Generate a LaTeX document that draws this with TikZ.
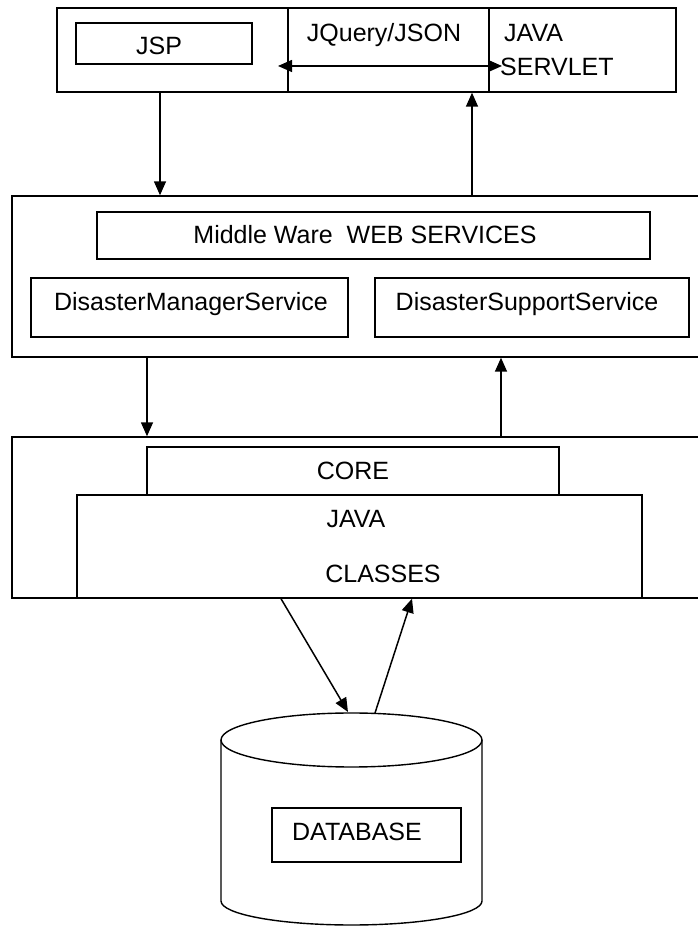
\documentclass[tikz,border=0pt]{standalone}
\usepackage{fontspec}
\setmainfont{Liberation Sans}
\usetikzlibrary{arrows.meta}

\tikzset{
  box/.style={draw, line width=1.4pt, inner sep=0pt, rectangle},
  lbl/.style={inner sep=0pt, anchor=base, font=\fontsize{25}{30}\selectfont},
  lblw/.style={lbl, anchor=base west},
  tip/.tip={Triangle[length=14pt,width=12pt]},
  arr/.style={line width=1.5pt, -tip},
  dblarr/.style={line width=1.5pt, tip-tip}
}

\begin{document}
\begin{tikzpicture}[x=1pt, y=1pt]
  \useasboundingbox (0,0) rectangle (698,926);
  \clip (0,0) rectangle (698,926);
  \fill[white] (0,0) rectangle (698,926);

  % --- presentation tier ---
  \node[box, minimum width=619pt, minimum height=84pt] (client) at (366.5,876) {};
  \node[box, minimum width=201pt, minimum height=84pt] (jq) at (388.5,876) {};
  \node[box, minimum width=176pt, minimum height=41pt] (jsp) at (164,882.5) {};
  \node[lbl] (jsptxt) at (159,871) {JSP};
  \node[lbl] (jqtxt) at (384,884) {JQuery/JSON};
  \node[lblw] (servlet1) at (504,884) {JAVA};
  \node[lblw] (servlet2) at (500,850.5) {SERVLET};
  \coordinate (jqleft) at (278,860);
  \coordinate (jqright) at (502,860);
  \draw[dblarr] (jqleft) -- (jqright);

  % --- middle ware tier ---
  \node[box, minimum width=698pt, minimum height=161pt] (middle) at (361,649.5) {};
  \node[box, minimum width=553pt, minimum height=47pt] (mw) at (373.5,690.5) {};
  \node[lbl] (mwtxt) at (365,682) {Middle Ware\ \ WEB SERVICES};
  \node[box, minimum width=317pt, minimum height=59pt] (dm) at (189.5,618.5) {};
  \node[lbl] (dmtxt) at (191,615) {DisasterManagerService};
  \node[box, minimum width=314pt, minimum height=59pt] (ds) at (532,618.5) {};
  \node[lbl] (dstxt) at (527,615) {DisasterSupportService};

  % --- core tier ---
  \node[box, minimum width=698pt, minimum height=161pt] (lower) at (361,408.5) {};
  \node[box, minimum width=412pt, minimum height=48pt] (core) at (353,455) {};
  \node[lbl] (coretxt) at (353,446) {CORE};
  \node[box, minimum width=565pt, minimum height=103pt] (classes) at (359.5,379.5) {};
  \node[lbl] (javatxt) at (356,398) {JAVA};
  \node[lbl] (classestxt) at (383,343) {CLASSES};

  % --- database cylinder ---
  \draw[line width=1.4pt, fill=white]
    (221,186) -- (221,25) arc[start angle=180, end angle=360, x radius=130.5, y radius=24]
    -- (482,186);
  \draw[line width=1.4pt] (351.5,186) ellipse[x radius=130.5, y radius=27];
  \node[box, minimum width=189pt, minimum height=54pt] (dbbox) at (366.5,91) {};
  \node[lbl] (dbtxt) at (357,85) {DATABASE};
  \coordinate (dbin) at (348,214);
  \coordinate (dbout) at (375,213);

  % --- connectors between tiers ---
  \draw[arr] (client.south -| 160,0) -- (middle.north -| 160,0);
  \draw[arr] (middle.north -| 472,0) -- (client.south -| 472,0);
  \draw[arr] (middle.south -| 147,0) -- (lower.north -| 147,0);
  \draw[arr] (lower.north -| 501,0) -- (middle.south -| 501,0);
  \draw[arr] (classes.south -| 281,0) -- (dbin);
  \draw[arr] (dbout) -- (classes.south -| 412,0);
\end{tikzpicture}
\end{document}
